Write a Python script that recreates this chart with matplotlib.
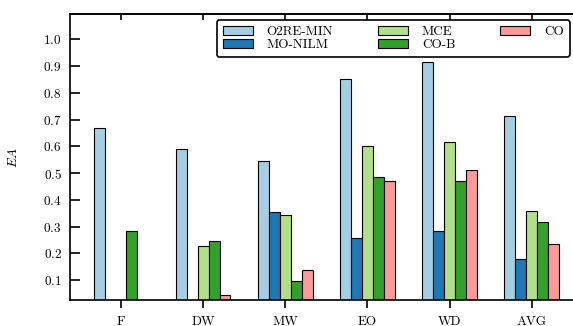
import numpy as np
import matplotlib
matplotlib.use("Agg")
import matplotlib.pyplot as plt

# -------------------------
# Data
# -------------------------
groups = ["F", "DW", "MW", "EO", "WD", "AVG"]
o2re_min = [0.670, 0.590, 0.546, 0.851, 0.915, 0.713]
mo_nilm = [np.nan, np.nan, 0.355, 0.256, 0.283, 0.180]
mce = [np.nan, 0.228, 0.343, 0.602, 0.617, 0.357]
co_b = [0.284, 0.247, 0.096, 0.484, 0.470, 0.316]
co = [np.nan, 0.045, 0.137, 0.470, 0.511, 0.234]

series = [
    ("O2RE-MIN", o2re_min, "#a6cee3"),
    ("MO-NILM", mo_nilm, "#1f78b4"),
    ("MCE", mce, "#b2df8a"),
    ("CO-B", co_b, "#33a02c"),
    ("CO", co, "#fb9a99"),
]
yticks = [0.1, 0.2, 0.3, 0.4, 0.5, 0.6, 0.7, 0.8, 0.9, 1.0]

# -------------------------
# Style
# -------------------------
plt.rcParams["font.family"] = "serif"
plt.rcParams["font.serif"] = ["cmr10"]
plt.rcParams["mathtext.fontset"] = "cm"
plt.rcParams["axes.formatter.use_mathtext"] = True
plt.rcParams["font.size"] = 9.5

fig = plt.figure(figsize=(5.73, 3.26), dpi=100)
ax = fig.add_axes([0.1222, 0.0798, 0.8948, 0.877])

width = 0.133
x = np.arange(len(groups))
for i, (name, vals, color) in enumerate(series):
    ax.bar(x + (i - 2) * width, vals, width, label=name, color=color,
           edgecolor="k", linewidth=0.8)

ax.set_xlim(-0.62, 5.62)
ax.set_ylim(0.025, 1.095)
ax.set_xticks(x)
ax.set_xticklabels(groups)
ax.set_yticks(yticks)
ax.set_ylabel(r"$EA$")
ax.yaxis.set_label_coords(-0.0975, 0.5)

for s in ax.spines.values():
    s.set_linewidth(1.2)
ax.tick_params(axis="y", direction="in", length=7, width=1.2, pad=6)
ax.tick_params(axis="x", direction="out", length=5.5, width=1.2, pad=6)

top = ax.secondary_xaxis("top")
top.set_xticks(x)
top.tick_params(direction="in", length=4.5, width=1.2, labeltop=False)
top.spines["top"].set_linewidth(1.2)

leg = ax.legend(ncol=3, loc="upper left", bbox_to_anchor=(0.286, 0.979),
                borderaxespad=0, frameon=True, fancybox=True,
                edgecolor="k", framealpha=1, handlelength=2.27,
                handleheight=0.68, handletextpad=1.06, columnspacing=3.4,
                labelspacing=0.05, borderpad=0.45)
leg.get_frame().set_linewidth(1.2)

fig.savefig("out.png", dpi=100)
